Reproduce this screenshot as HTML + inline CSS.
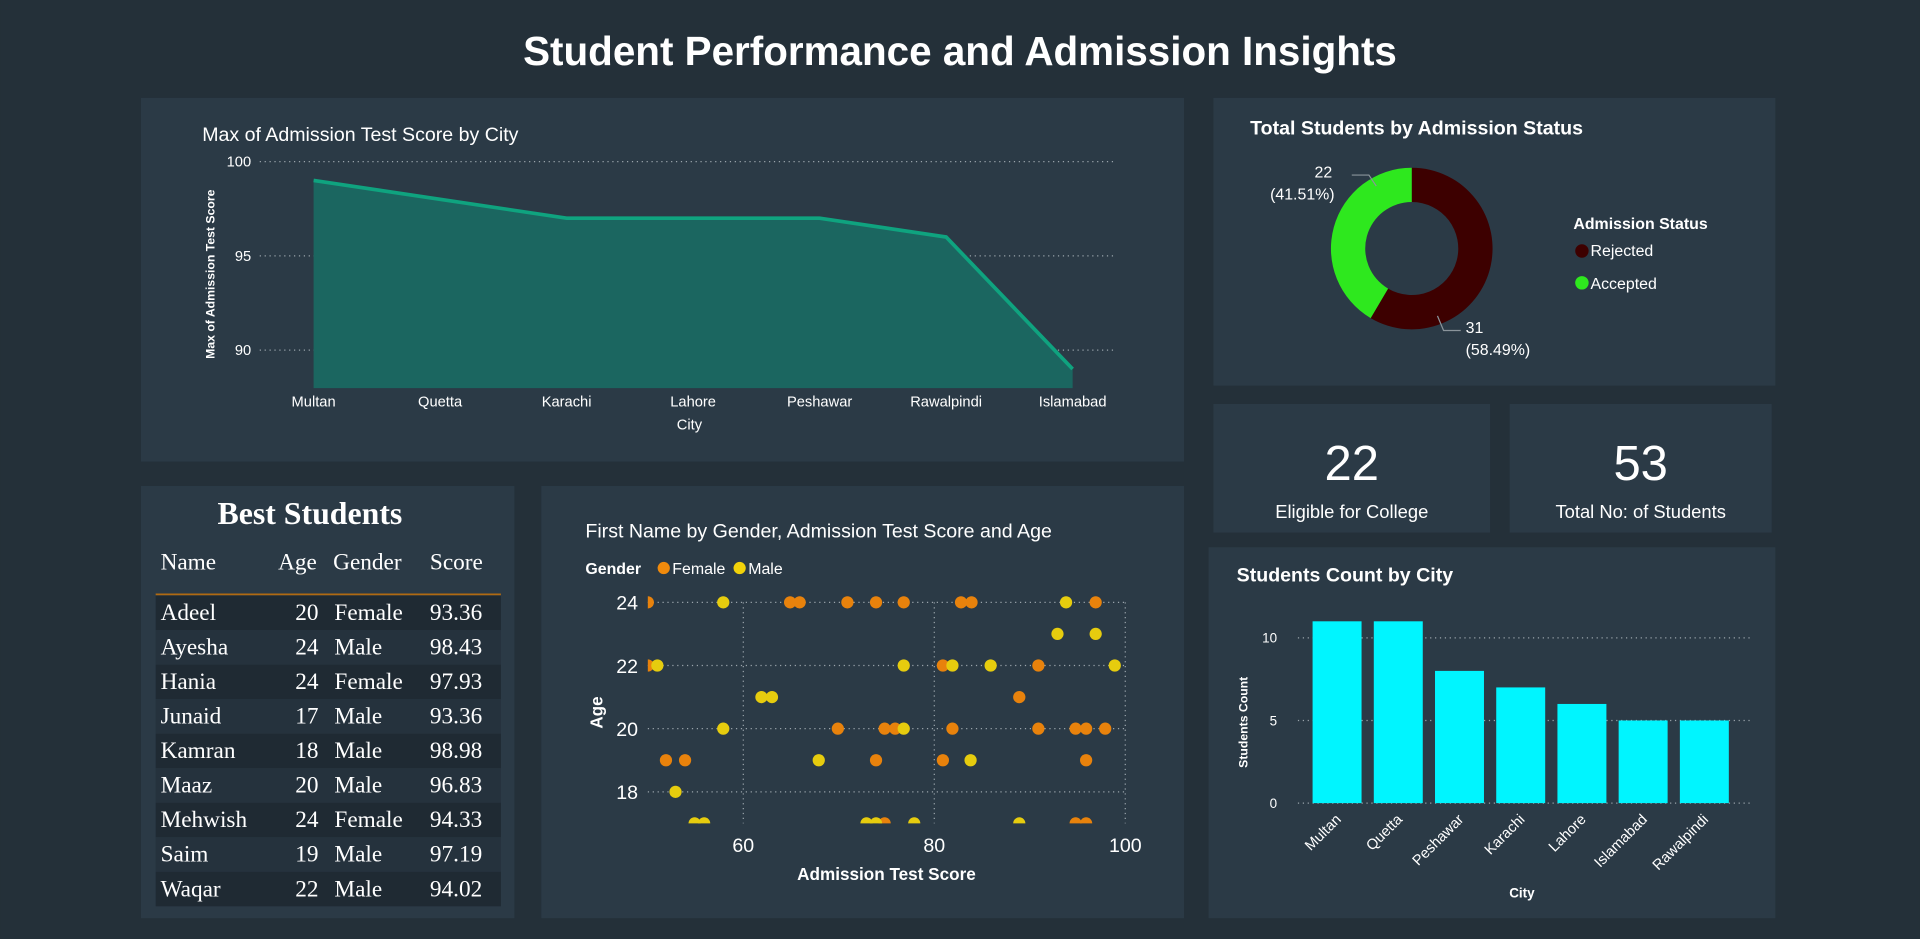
<!DOCTYPE html>
<html><head><meta charset="utf-8"><style>
html,body{margin:0;padding:0;background:#243039;overflow:hidden}
svg{display:block}
text{font-family:"Liberation Sans",sans-serif}
text.serif{font-family:"Liberation Serif",serif}
</style></head><body>
<svg id="root" width="1920" height="939" viewBox="0 0 1568 767" xmlns="http://www.w3.org/2000/svg">
<rect x="0" y="0" width="1568" height="767" fill="#243039"/>
<text x="784" y="53" text-anchor="middle" font-size="33" font-weight="bold" fill="#fff">Student Performance and Admission Insights</text>

<rect x="115" y="80" width="852" height="297" fill="#2b3a46"/>
<rect x="991" y="80" width="459" height="235" fill="#2b3a46"/>
<rect x="991" y="330" width="226" height="105" fill="#2b3a46"/>
<rect x="1233" y="330" width="214" height="105" fill="#2b3a46"/>
<rect x="987" y="447" width="463" height="303" fill="#2b3a46"/>
<rect x="115" y="397" width="305" height="353" fill="#2b3a46"/>
<rect x="442" y="397" width="525" height="353" fill="#2b3a46"/>

<g id="area">
<text x="165" y="115" font-size="16" fill="#fff">Max of Admission Test Score by City</text>
<text transform="translate(175,224) rotate(-90)" text-anchor="middle" font-size="10" font-weight="bold" fill="#fff">Max of Admission Test Score</text>
<text x="563" y="351" text-anchor="middle" font-size="12" fill="#fff">City</text>
</g>

<g id="donut">
<text x="1021" y="110" font-size="16" font-weight="bold" fill="#fff">Total Students by Admission Status</text>
<text x="1285" y="187" font-size="13" font-weight="bold" fill="#fff">Admission Status</text>
<circle cx="1292" cy="205" r="5.5" fill="#3d0000"/>
<text x="1299" y="209" font-size="13" fill="#fff">Rejected</text>
<circle cx="1292" cy="231" r="5.5" fill="#2ee81e"/>
<text x="1299" y="236" font-size="13" fill="#fff">Accepted</text>
</g>

<text x="1104" y="392" text-anchor="middle" font-size="40" fill="#fff">22</text>
<text x="1104" y="423" text-anchor="middle" font-size="15" fill="#fff">Eligible for College</text>
<text x="1340" y="392" text-anchor="middle" font-size="40" fill="#fff">53</text>
<text x="1340" y="423" text-anchor="middle" font-size="15" fill="#fff">Total No: of Students</text>

<g id="bars">
<text x="1010" y="475" font-size="16" font-weight="bold" fill="#fff">Students Count by City</text>
<text transform="translate(1019,590) rotate(-90)" text-anchor="middle" font-size="10" font-weight="bold" fill="#fff">Students Count</text>
<text x="1243" y="733" text-anchor="middle" font-size="11" font-weight="bold" fill="#fff">City</text>
</g>

<g id="table">
<text class="serif" x="253" y="428" text-anchor="middle" font-size="26" font-weight="bold" fill="#fff">Best Students</text>
</g>

<g id="scatter">
<text x="478" y="439" font-size="16" fill="#fff">First Name by Gender, Admission Test Score and Age</text>
<text x="478" y="469" font-size="13" font-weight="bold" fill="#fff">Gender</text>
<circle cx="542" cy="464" r="5" fill="#f08a0c"/>
<text x="549" y="469" font-size="13" fill="#fff">Female</text>
<circle cx="604" cy="464" r="5" fill="#f2d20a"/>
<text x="611" y="469" font-size="13" fill="#fff">Male</text>
<text x="651" y="719" font-size="14" font-weight="bold" fill="#fff">Admission Test Score</text>
<text transform="translate(492,582) rotate(-90)" text-anchor="middle" font-size="14" font-weight="bold" fill="#fff">Age</text>
</g>
</svg>
<script>
const NS='http://www.w3.org/2000/svg';
function mk(tag,attrs,parent){const e=document.createElementNS(NS,tag);for(const k in attrs)e.setAttribute(k,attrs[k]);parent.appendChild(e);return e;}

const areaCities=['Multan','Quetta','Karachi','Lahore','Peshawar','Rawalpindi','Islamabad'];
const areaScores=[99,98,97,97,97,96,89];
const areaTicks=[90,95,100];
const donutLabels=['Rejected','Accepted'];
const donutValues=[31,22];
const barCities=['Multan','Quetta','Peshawar','Karachi','Lahore','Islamabad','Rawalpindi'];
const barCounts=[11,11,8,7,6,5,5];
const barTicks=[0,5,10];
const tblNames=['Adeel','Ayesha','Hania','Junaid','Kamran','Maaz','Mehwish','Saim','Waqar'];
const tblAges=[20,24,24,17,18,20,24,19,22];
const tblGenders=['Female','Male','Female','Male','Male','Male','Female','Male','Male'];
const tblScores=['93.36','98.43','97.93','93.36','98.98','96.83','94.33','97.19','94.02'];
const femaleScores=[50,64.9,65.9,70.9,73.9,76.8,82.8,83.9,96.9, 50,80.9,90.9, 88.9, 69.9,74.8,75.9,81.9,90.9,94.8,95.9,97.9, 51.9,53.9,73.9,80.9,95.9, 74.8,94.8,95.9];
const femaleAges  =[24,24,24,24,24,24,24,24,24, 22,22,22, 21, 20,20,20,20,20,20,20,20, 19,19,19,19,19, 17,17,17];
const maleScores=[57.9,93.8, 92.9,96.9, 51,76.8,81.9,85.9,98.9, 61.9,63, 57.9,76.8, 67.9,83.8, 52.9, 54.9,55.9,72.9,73.9,77.9,88.9];
const maleAges  =[24,24, 23,23, 22,22,22,22,22, 21,21, 20,20, 19,19, 18, 17,17,17,17,17,17];
const scatterXTicks=[60,80,100];
const scatterYTicks=[18,20,22,24];

(function(){
  const g=document.getElementById('area');
  const x0=256,x1=876;
  const xs=i=>x0+i*(x1-x0)/(areaCities.length-1);
  const ys=v=>286-(v-90)*15.4;
  const base=317;
  areaTicks.forEach(t=>{
    const l=mk('line',{x1:212,x2:912,y1:ys(t),y2:ys(t),stroke:'#9aa4ab','stroke-width':1,'stroke-dasharray':'1 3'},g);
    
    
    const tx=mk('text',{x:205,y:ys(t)+4,'text-anchor':'end','font-size':12,fill:'#fff'},g);tx.textContent=t;
    
    
  });
  let d='M'+xs(0)+','+base;
  areaScores.forEach((v,i)=>{d+=' L'+xs(i)+','+ys(v);});
  d+=' L'+xs(areaScores.length-1)+','+base+' Z';
  const a=mk('path',{d:d,fill:'#1b6660'},g);
  
  
  const pts=areaScores.map((v,i)=>xs(i)+','+ys(v)).join(' ');
  const pl=mk('polyline',{points:pts,fill:'none',stroke:'#0fa37f','stroke-width':3},g);
  
  
  areaCities.forEach((c,i)=>{
    const t=mk('text',{x:xs(i),y:332,'text-anchor':'middle','font-size':12,fill:'#fff'},g);t.textContent=c;
    
    
  });
})();

(function(){
  const g=document.getElementById('donut');
  const cx=1153,cy=203,R=66,r=38;
  const total=donutValues.reduce((a,b)=>a+b,0);
  const colors=['#3d0000','#2ee81e'];
  let ang=-Math.PI/2;
  donutValues.forEach((v,i)=>{
    const a0=ang,a1=ang+v/total*2*Math.PI;ang=a1;
    const large=(a1-a0)>Math.PI?1:0;
    const p=(rad,a)=>(cx+rad*Math.cos(a))+','+(cy+rad*Math.sin(a));
    const d='M'+p(R,a0)+' A'+R+','+R+' 0 '+large+' 1 '+p(R,a1)+' L'+p(r,a1)+' A'+r+','+r+' 0 '+large+' 0 '+p(r,a0)+' Z';
    const s=mk('path',{d:d,fill:colors[i]},g);
    
    
  });
  // data labels (positioned like the reference: rejected bottom-right, accepted top-left)
  const pct=donutValues.map(v=>(v/total*100).toFixed(2));
  const lab=[
    {i:0,leader:'1174,258 1179,270 1193,270',x:1197,y1:272,y2:290,anchor:'start'},
    {i:1,leader:'1124,152 1118,143 1104,143',x:1090,y1:145,y2:163,anchor:'end'}
  ];
  lab.forEach(L=>{
    const nm=donutLabels[L.i].toLowerCase();
    const ln=mk('polyline',{points:L.leader,fill:'none',stroke:'#8a949b','stroke-width':1},g);
    
    
    const t1=mk('text',{x:L.anchor==='end'?L.x-2:L.x,y:L.y1,'text-anchor':L.anchor,'font-size':13,fill:'#fff'},g);t1.textContent=donutValues[L.i];
    
    
    const t2=mk('text',{x:L.x,y:L.y2,'text-anchor':L.anchor,'font-size':13,fill:'#fff'},g);t2.textContent='('+pct[L.i]+'%)';
    
    
  });
})();

(function(){
  const g=document.getElementById('bars');
  const ys=v=>656-v*13.5;
  const xc=i=>1092+i*50;
  barTicks.forEach(t=>{
    const l=mk('line',{x1:1060,x2:1432,y1:ys(t),y2:ys(t),stroke:'#9aa4ab','stroke-width':1,'stroke-dasharray':'1 3'},g);
    
    
    const tx=mk('text',{x:1043,y:ys(t)+4,'text-anchor':'end','font-size':11,fill:'#fff'},g);tx.textContent=t;
    
    
  });
  barCounts.forEach((v,i)=>{
    const b=mk('rect',{x:xc(i)-20,y:ys(v),width:40,height:ys(0)-ys(v),fill:'#00f5ff'},g);
    
    
    const t=mk('text',{transform:'translate('+(xc(i)+4)+',670) rotate(-45)','text-anchor':'end','font-size':12,fill:'#fff'},g);t.textContent=barCities[i];
    
    
  });
})();

(function(){
  const g=document.getElementById('table');
  const hdr=[['Name',131,'start'],['Age',227,'start'],['Gender',272,'start'],['Score',351,'start']];
  hdr.forEach(h=>{
    const t=mk('text',{class:'serif',x:h[1],y:465,'text-anchor':h[2],'font-size':19,fill:'#fff'},g);t.textContent=h[0];
    
    
  });
  const ln=mk('line',{x1:127,x2:409,y1:485.5,y2:485.5,stroke:'#b06a12','stroke-width':1.5},g);
  
  
  const rh=28.2;
  tblNames.forEach((n,i)=>{
    const y=486.5+i*rh;
    const r=mk('rect',{x:127,y:y,width:282,height:rh,fill:i%2===0?'#1f2a33':'#25323d'},g);
    
    
    const by=y+20;
    const cells=[[n,131,'start','name'],[tblAges[i],260,'end','age'],[tblGenders[i],273,'start','gender'],[tblScores[i],351,'start','score']];
    cells.forEach(c=>{
      const t=mk('text',{class:'serif',x:c[1],y:by,'text-anchor':c[2],'font-size':19,fill:'#fff'},g);t.textContent=c[0];
      
      
    });
  });
})();

(function(){
  const g=document.getElementById('scatter');
  const xs=v=>607+(v-60)*7.8;
  const ys=v=>492+(24-v)*25.8;
  const left=xs(50),right=xs(100),top=ys(24),bot=ys(17);
  scatterYTicks.forEach(t=>{
    const l=mk('line',{x1:left,x2:right,y1:ys(t),y2:ys(t),stroke:'#9aa4ab','stroke-width':1,'stroke-dasharray':'1 3'},g);
    
    
    const tx=mk('text',{x:521,y:ys(t)+6,'text-anchor':'end','font-size':16,fill:'#fff'},g);tx.textContent=t;
    
    
  });
  scatterXTicks.forEach(t=>{
    const l=mk('line',{x1:xs(t),x2:xs(t),y1:top,y2:bot,stroke:'#9aa4ab','stroke-width':1,'stroke-dasharray':'1 3'},g);
    
    
    const tx=mk('text',{x:xs(t),y:696,'text-anchor':'middle','font-size':16,fill:'#fff'},g);tx.textContent=t;
    
    
  });
  const cp=mk('clipPath',{id:'scClip'},g);
  mk('rect',{x:left,y:top-6,width:right-left+8,height:bot-top+6},cp);
  const pg=mk('g',{'clip-path':'url(#scClip)'},g);
  femaleScores.forEach((s,i)=>{
    const c=mk('circle',{cx:xs(s),cy:ys(femaleAges[i]),r:5,fill:'#e8820c'},pg);
    
    
  });
  maleScores.forEach((s,i)=>{
    const c=mk('circle',{cx:xs(s),cy:ys(maleAges[i]),r:5,fill:'#e6cc0e'},pg);
    
    
  });
})();
</script>
</body></html>
